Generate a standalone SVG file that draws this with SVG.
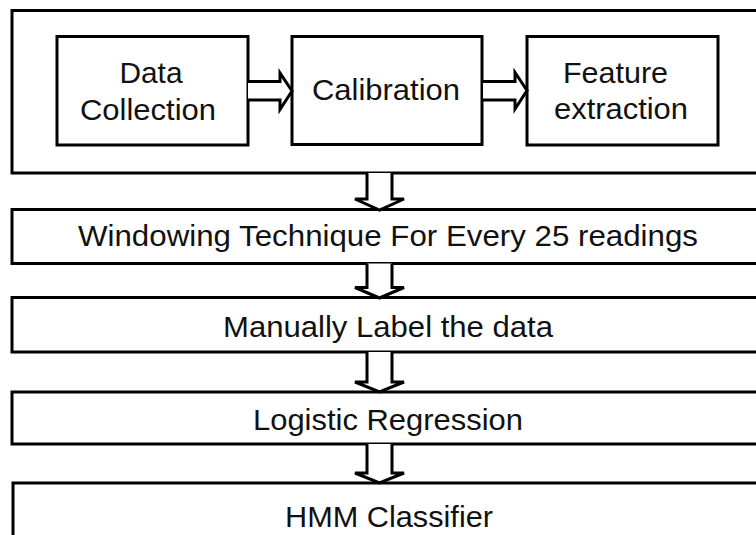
<svg xmlns="http://www.w3.org/2000/svg" width="756" height="535" viewBox="0 0 756 535">
<style>
.box{fill:#fff;stroke:#000;stroke-width:3}
.arr{fill:#fff;stroke:#000;stroke-width:3;stroke-linejoin:miter}
text{font-family:"Liberation Sans",Arial,sans-serif;font-size:30px;fill:#111;text-anchor:middle}
</style>
<rect width="756" height="535" fill="#fff"/>
<g id="stage1">
<rect class="box" x="12" y="10.5" width="760" height="162.5"/>
</g>
<g id="data-collection">
<rect class="box" x="57" y="36.5" width="191" height="108.5"/>
<text x="151" y="83" textLength="63" lengthAdjust="spacingAndGlyphs">Data</text>
<text x="148" y="119.5" textLength="136" lengthAdjust="spacingAndGlyphs">Collection</text>
</g>
<g id="calibration">
<rect class="box" x="292" y="36.5" width="190" height="108"/>
<text x="386" y="100" textLength="148" lengthAdjust="spacingAndGlyphs">Calibration</text>
</g>
<g id="feature-extraction">
<rect class="box" x="527" y="36.5" width="191" height="108.5"/>
<text x="615.5" y="83" textLength="105" lengthAdjust="spacingAndGlyphs">Feature</text>
<text x="621" y="119" textLength="134" lengthAdjust="spacingAndGlyphs">extraction</text>
</g>
<g id="windowing">
<rect class="box" x="12" y="209.5" width="760" height="54"/>
<text x="388" y="246" textLength="620" lengthAdjust="spacingAndGlyphs">Windowing Technique For Every 25 readings</text>
</g>
<g id="manual-label">
<rect class="box" x="12" y="297.5" width="760" height="54.5"/>
<text x="388" y="337" textLength="330" lengthAdjust="spacingAndGlyphs">Manually Label the data</text>
</g>
<g id="logistic">
<rect class="box" x="12" y="392" width="760" height="52"/>
<text x="388" y="430" textLength="270" lengthAdjust="spacingAndGlyphs">Logistic Regression</text>
</g>
<g id="hmm">
<rect class="box" x="13" y="483" width="760" height="60"/>
<text x="389" y="526.5" textLength="208" lengthAdjust="spacingAndGlyphs">HMM Classifier</text>
</g>
<g id="connectors">
<path class="arr" d="M248,81.5 H280 V73 L292,91 L280,109.5 V100 H248"/>
<path class="arr" d="M483,81.5 H515 V72.5 L527,90.5 L515,109 V100 H483"/>
<path class="arr" d="M367,173 V199 H355 L379.5,210 L404,199 H392 V173"/>
<path class="arr" d="M367,263.5 V287.5 H355 L379.5,298 L404,287.5 H392 V263.5"/>
<path class="arr" d="M367,352 V382 H355 L379.5,392 L404,382 H392 V352"/>
<path class="arr" d="M367,444 V473 H355 L379.5,483 L404,473 H392 V444"/>
</g>
</svg>
